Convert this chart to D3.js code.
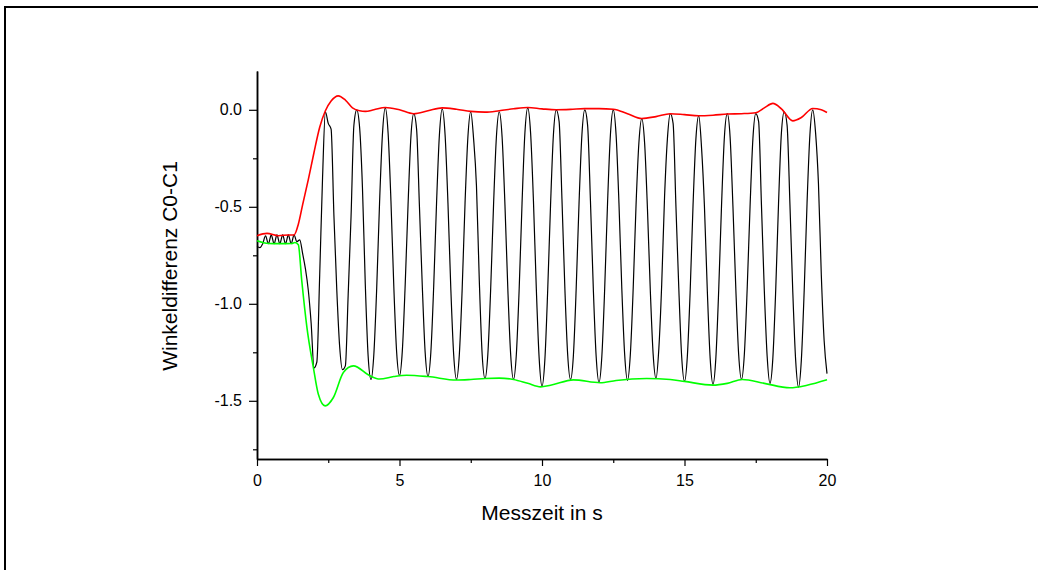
<!DOCTYPE html>
<html>
<head>
<meta charset="utf-8">
<script src="https://cdn.jsdelivr.net/npm/d3@7"></script>
<style>
  body { margin: 0; background: #fff; }
  #chart { width: 1038px; height: 570px; }
  text { font-family: "Liberation Sans", Arial, sans-serif; fill: #000; }
</style>
</head>
<body>
<div id="chart"></div>
<script>
// Black measurement, one sample every 0.1 s from t = 0 to 20 s (one row per second)
const blackStep = 0.1;
const blackV = [
  -0.705, -0.71, -0.69, -0.65, -0.69, -0.645, -0.69, -0.645, -0.69, -0.645,
  -0.69, -0.645, -0.69, -0.645, -0.68, -0.67, -0.74, -0.82, -0.93, -1.10,
  -1.33, -1.30, -0.85, -0.35, -0.01, -0.07, -0.10, -0.55, -0.93, -1.22,
  -1.34, -1.32, -0.95, -0.55, -0.08, 0.0, -0.09, -0.40, -0.90, -1.27,
  -1.39, -1.26, -0.92, -0.48, -0.13, 0.01, -0.12, -0.47, -0.91, -1.25,
  -1.37, -1.24, -0.90, -0.49, -0.14, -0.02, -0.10, -0.50, -0.91, -1.25,
  -1.375, -1.25, -0.91, -0.48, -0.13, 0.005, -0.13, -0.48, -0.92, -1.26,
  -1.39, -1.26, -0.92, -0.48, -0.14, -0.01, -0.15, -0.39, -0.88, -1.26,
  -1.385, -1.26, -0.92, -0.49, -0.14, -0.01, -0.14, -0.49, -0.92, -1.26,
  -1.39, -1.26, -0.92, -0.48, -0.12, 0.01, -0.12, -0.47, -0.92, -1.28,
  -1.425, -1.29, -0.93, -0.49, -0.13, 0.0, -0.06, -0.46, -0.91, -1.26,
  -1.39, -1.27, -0.92, -0.48, -0.13, 0.0, -0.08, -0.47, -0.92, -1.27,
  -1.405, -1.27, -0.92, -0.48, -0.13, 0.0, -0.13, -0.48, -0.92, -1.26,
  -1.395, -1.26, -0.92, -0.49, -0.17, -0.045, -0.17, -0.51, -0.93, -1.26,
  -1.385, -1.23, -0.90, -0.45, -0.15, -0.02, -0.07, -0.50, -0.92, -1.27,
  -1.40, -1.27, -0.93, -0.49, -0.15, -0.03, -0.20, -0.50, -0.93, -1.28,
  -1.415, -1.28, -0.93, -0.49, -0.14, -0.02, -0.14, -0.50, -0.92, -1.26,
  -1.39, -1.26, -0.92, -0.50, -0.15, -0.02, -0.06, -0.49, -0.93, -1.27,
  -1.41, -1.28, -0.93, -0.48, -0.12, -0.01, -0.08, -0.49, -0.94, -1.29,
  -1.43, -1.29, -0.93, -0.48, -0.13, 0.0, -0.12, -0.38, -0.85, -1.19,
  -1.36
];

// Upper envelope (red)
const redT = [0, 0.35, 0.75, 1.1, 1.3, 1.45, 1.6, 1.8, 2.0, 2.2, 2.4, 2.6, 2.85, 3.1, 3.35, 3.6, 3.8,
  4.1, 4.5, 5.0, 5.5, 6.0, 6.5, 7.0, 7.5, 8.0, 8.5, 9.0, 9.5, 10.0, 10.5, 11.0, 11.5, 12.0, 12.5,
  13.0, 13.5, 14.0, 14.5, 15.0, 15.5, 16.0, 16.5, 17.0, 17.5, 17.8, 18.1, 18.4, 18.8, 19.1, 19.5, 19.8, 20.0];
const redV = [-0.649, -0.637, -0.649, -0.645, -0.645, -0.59, -0.49, -0.36, -0.22, -0.09, -0.005, 0.045, 0.072,
  0.05, 0.01, -0.005, -0.008, 0.0, 0.012, 0.0, -0.02, -0.005, 0.01, 0.003, -0.008, -0.012, -0.005, 0.005,
  0.012, 0.005, 0.0, 0.002, 0.006, 0.006, 0.003, -0.02, -0.045, -0.035, -0.02, -0.025, -0.031, -0.028,
  -0.022, -0.02, -0.015, 0.01, 0.033, 0.005, -0.057, -0.04, 0.007, 0.0, -0.014];

// Lower envelope (green)
const greenT = [0, 0.4, 0.8, 1.22, 1.33, 1.45, 1.57, 1.75, 1.98, 2.15, 2.39, 2.68, 3.03, 3.38, 3.96,
  4.3, 4.8, 5.25, 6.0, 7.0, 7.5, 8.0, 8.5, 9.0, 9.5, 9.95, 10.3, 11.1, 12.04, 12.6, 13.67, 14.5, 15.0,
  16.0, 16.5, 17.03, 17.8, 18.7, 19.3, 20.0];
const greenV = [-0.675, -0.689, -0.69, -0.689, -0.684, -0.695, -0.88, -1.12, -1.33, -1.465, -1.526, -1.483,
  -1.354, -1.32, -1.371, -1.388, -1.375, -1.368, -1.375, -1.393, -1.39, -1.385, -1.383, -1.39, -1.41,
  -1.428, -1.42, -1.392, -1.407, -1.395, -1.385, -1.39, -1.40, -1.419, -1.41, -1.39, -1.41, -1.433, -1.42, -1.392];

const xMajor = [0, 5, 10, 15, 20];
const xMinor = [2.5, 7.5, 12.5, 17.5];
const yMajor = [-1.5, -1.0, -0.5, 0.0];
const yMinor = [-1.75, -1.25, -0.75, -0.25];

const W = 1038, H = 570;
const margin = { top: 71, left: 257 };
const width = 570, height = 388;

const svg = d3.select('#chart').append('svg')
    .attr('width', W)
    .attr('height', H);

// outer frame (only top and left edges are visible)
svg.append('path')
    .attr('d', `M5,${H} L5,7 L${W},7`)
    .attr('fill', 'none')
    .attr('stroke', '#000')
    .attr('stroke-width', 2);

const g = svg.append('g')
    .attr('transform', `translate(${margin.left},${margin.top})`);

const x = d3.scaleLinear().domain([0, 20]).range([0, width]);
const y = d3.scaleLinear().domain([-1.8, 0.2]).range([height, 0]);

function styleAxis(sel) {
    sel.select('.domain').attr('stroke', '#000').attr('stroke-width', 1.5);
    sel.selectAll('.tick line').attr('stroke', '#000').attr('stroke-width', 1.2);
}

// Y axis
g.append('g')
    .call(d3.axisLeft(y).tickValues(yMinor).tickSize(4).tickSizeOuter(0).tickFormat(''))
    .call(styleAxis);
g.append('g')
    .call(d3.axisLeft(y).tickValues(yMajor).tickSize(8).tickSizeOuter(0).tickPadding(7)
        .tickFormat(d => d.toFixed(1)))
    .call(styleAxis)
    .selectAll('text')
    .style('font-size', '16px')
    .style('font-family', '"Liberation Sans", Arial, sans-serif');

// X axis
g.append('g')
    .attr('transform', `translate(0,${height})`)
    .call(d3.axisBottom(x).tickValues(xMinor).tickSize(4).tickSizeOuter(0).tickFormat(''))
    .call(styleAxis);
g.append('g')
    .attr('transform', `translate(0,${height})`)
    .call(d3.axisBottom(x).tickValues(xMajor).tickSize(7).tickSizeOuter(0).tickPadding(9)
        .tickFormat(d => String(d)))
    .call(styleAxis)
    .selectAll('text')
    .style('font-size', '16px')
    .style('font-family', '"Liberation Sans", Arial, sans-serif');

// Axis titles
g.append('text')
    .attr('x', width / 2)
    .attr('y', height + 61)
    .attr('text-anchor', 'middle')
    .style('font-size', '21px')
    .text('Messzeit in s');

g.append('text')
    .attr('transform', `translate(${-80},${height / 2 + 1}) rotate(-90)`)
    .attr('text-anchor', 'middle')
    .style('font-size', '21px')
    .text('Winkeldifferenz C0-C1');

// Lines
const blackLine = d3.line()
    .x((d, i) => x(i * blackStep))
    .y(d => y(d))
    .curve(d3.curveMonotoneX);

const envLine = d3.line()
    .x(d => x(d[0]))
    .y(d => y(d[1]))
    .curve(d3.curveMonotoneX);

g.append('path')
    .datum(blackV)
    .attr('d', blackLine)
    .attr('fill', 'none')
    .attr('stroke', '#000')
    .attr('stroke-width', 1.2);

g.append('path')
    .datum(redT.map((t, i) => [t, redV[i]]))
    .attr('d', envLine)
    .attr('fill', 'none')
    .attr('stroke', '#ff0000')
    .attr('stroke-width', 1.6);

g.append('path')
    .datum(greenT.map((t, i) => [t, greenV[i]]))
    .attr('d', envLine)
    .attr('fill', 'none')
    .attr('stroke', '#00ff00')
    .attr('stroke-width', 1.6);
</script>
</body>
</html>
